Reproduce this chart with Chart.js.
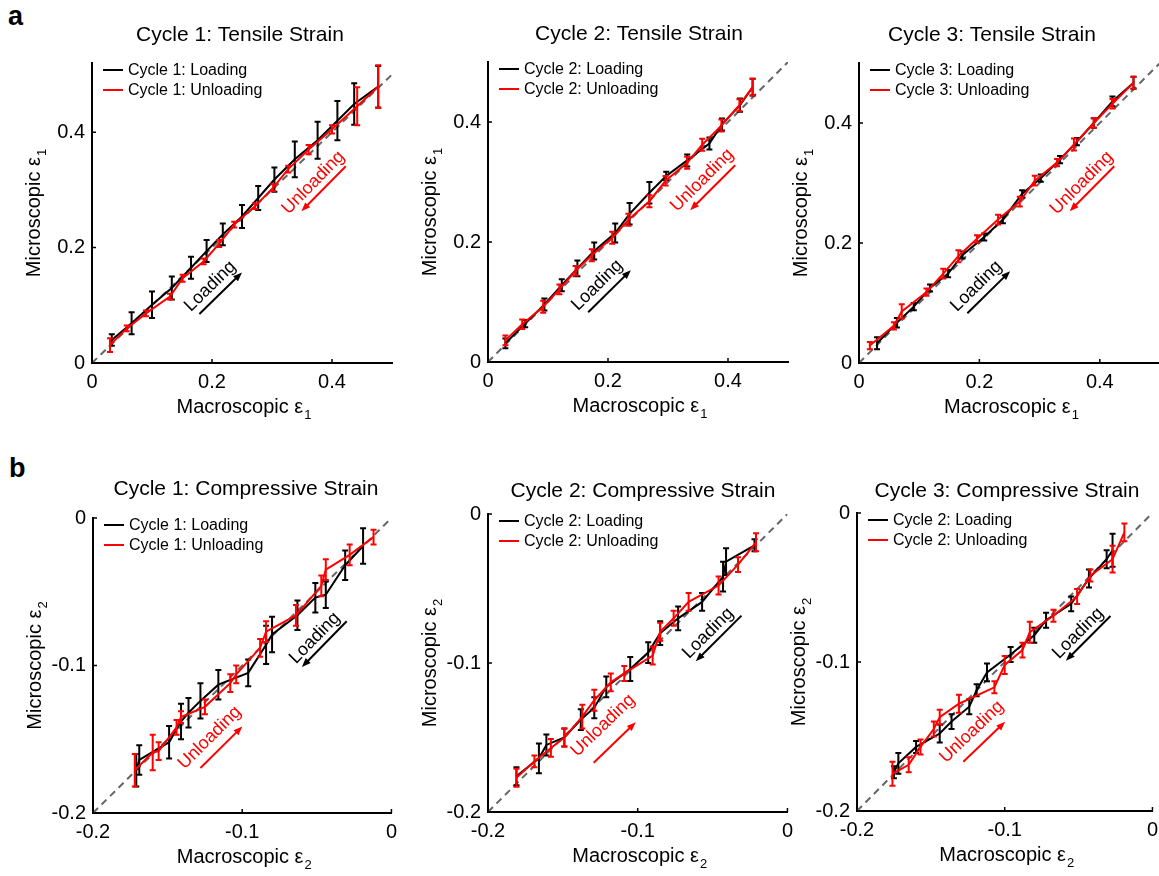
<!DOCTYPE html>
<html>
<head>
<meta charset="utf-8">
<script src="https://cdn.jsdelivr.net/npm/chart.js@4.4.1/dist/chart.umd.min.js"></script>
<style>
  html, body { margin: 0; padding: 0; background: #fff; overflow: hidden; }
  body { width: 1159px; height: 876px; position: relative; font-family: "Liberation Sans", Arial, sans-serif; }
  .tag { position: absolute; font-weight: bold; font-size: 27px; line-height: 27px; color: #000; }
</style>
</head>
<body>
<div class="tag" style="left:8px;top:3px">a</div>
<div class="tag" style="left:9px;top:455px">b</div>
<script>
// ---- data ----
const tensileTicks = [0, 0.2, 0.4];
const compressiveTicks = [-0.2, -0.1, 0];

// a: tensile strain, cycles 1-3
const a1LoadX = [0.033, 0.066, 0.100, 0.133, 0.165, 0.191, 0.218, 0.250, 0.277, 0.304, 0.338, 0.376, 0.409, 0.437, 0.477];
const a1LoadY = [0.040, 0.069, 0.101, 0.130, 0.165, 0.194, 0.223, 0.254, 0.286, 0.318, 0.353, 0.386, 0.420, 0.449, 0.479];
const a1LoadErr = [0.010, 0.019, 0.023, 0.020, 0.019, 0.019, 0.019, 0.020, 0.021, 0.021, 0.031, 0.032, 0.034, 0.036, 0.036];
const a1UnloadX = [0.477, 0.442, 0.400, 0.361, 0.327, 0.302, 0.272, 0.237, 0.212, 0.186, 0.151, 0.130, 0.090, 0.058, 0.030];
const a1UnloadY = [0.479, 0.445, 0.405, 0.370, 0.336, 0.304, 0.272, 0.240, 0.207, 0.176, 0.147, 0.115, 0.086, 0.060, 0.031];
const a1UnloadErr = [0.037, 0.033, 0.007, 0.008, 0.006, 0.006, 0.005, 0.005, 0.006, 0.005, 0.006, 0.005, 0.005, 0.005, 0.012];

const a2LoadX = [0.029, 0.062, 0.094, 0.123, 0.149, 0.177, 0.212, 0.236, 0.269, 0.297, 0.332, 0.369, 0.390, 0.420, 0.441];
const a2LoadY = [0.031, 0.064, 0.096, 0.128, 0.156, 0.185, 0.215, 0.247, 0.282, 0.310, 0.336, 0.364, 0.396, 0.428, 0.458];
const a2LoadErr = [0.008, 0.006, 0.010, 0.010, 0.013, 0.014, 0.016, 0.018, 0.018, 0.007, 0.010, 0.010, 0.010, 0.011, 0.014];
const a2UnloadX = [0.441, 0.419, 0.389, 0.357, 0.332, 0.296, 0.269, 0.234, 0.207, 0.173, 0.146, 0.119, 0.092, 0.057, 0.029];
const a2UnloadY = [0.458, 0.428, 0.394, 0.362, 0.332, 0.302, 0.268, 0.237, 0.207, 0.178, 0.152, 0.121, 0.092, 0.063, 0.036];
const a2UnloadErr = [0.014, 0.010, 0.010, 0.010, 0.010, 0.008, 0.010, 0.010, 0.010, 0.010, 0.008, 0.008, 0.010, 0.008, 0.008];

const a3LoadX = [0.030, 0.063, 0.091, 0.118, 0.148, 0.172, 0.208, 0.239, 0.271, 0.302, 0.334, 0.362, 0.390, 0.421, 0.456];
const a3LoadY = [0.033, 0.067, 0.094, 0.125, 0.149, 0.180, 0.210, 0.239, 0.282, 0.308, 0.339, 0.369, 0.400, 0.436, 0.467];
const a3LoadErr = [0.010, 0.008, 0.006, 0.006, 0.006, 0.006, 0.006, 0.006, 0.006, 0.006, 0.006, 0.006, 0.008, 0.008, 0.010];
const a3UnloadX = [0.456, 0.421, 0.390, 0.357, 0.329, 0.292, 0.267, 0.231, 0.196, 0.165, 0.140, 0.112, 0.071, 0.058, 0.018];
const a3UnloadY = [0.467, 0.432, 0.400, 0.364, 0.334, 0.304, 0.269, 0.239, 0.207, 0.178, 0.149, 0.118, 0.086, 0.062, 0.029];
const a3UnloadErr = [0.010, 0.008, 0.008, 0.010, 0.006, 0.008, 0.008, 0.008, 0.006, 0.010, 0.008, 0.006, 0.012, 0.006, 0.006];

// b: compressive strain, cycles 1-3
const b1LoadX = [-0.019, -0.031, -0.044, -0.051, -0.063, -0.080, -0.084, -0.096, -0.116, -0.128, -0.136, -0.141, -0.149, -0.169, -0.171];
const b1LoadY = [-0.019, -0.032, -0.052, -0.054, -0.066, -0.079, -0.086, -0.105, -0.113, -0.124, -0.132, -0.138, -0.152, -0.164, -0.171];
const b1LoadErr = [0.012, 0.010, 0.009, 0.010, 0.010, 0.012, 0.013, 0.009, 0.010, 0.012, 0.010, 0.012, 0.011, 0.010, 0.011];
const b1UnloadX = [-0.172, -0.160, -0.156, -0.144, -0.141, -0.125, -0.108, -0.104, -0.088, -0.084, -0.064, -0.047, -0.044, -0.028, -0.012];
const b1UnloadY = [-0.171, -0.159, -0.158, -0.142, -0.135, -0.128, -0.112, -0.106, -0.088, -0.077, -0.066, -0.046, -0.035, -0.025, -0.013];
const b1UnloadErr = [0.011, 0.012, 0.006, 0.005, 0.004, 0.005, 0.006, 0.006, 0.006, 0.007, 0.007, 0.007, 0.007, 0.007, 0.005];

const b2LoadX = [-0.022, -0.041, -0.043, -0.057, -0.073, -0.085, -0.093, -0.105, -0.121, -0.129, -0.138, -0.149, -0.161, -0.166, -0.181];
const b2LoadY = [-0.021, -0.032, -0.042, -0.059, -0.070, -0.080, -0.093, -0.104, -0.116, -0.130, -0.138, -0.150, -0.155, -0.164, -0.176];
const b2LoadErr = [0.004, 0.009, 0.010, 0.006, 0.008, 0.008, 0.007, 0.008, 0.007, 0.007, 0.007, 0.006, 0.007, 0.010, 0.006];
const b2UnloadX = [-0.181, -0.169, -0.158, -0.149, -0.137, -0.129, -0.118, -0.109, -0.090, -0.085, -0.076, -0.066, -0.046, -0.033, -0.021];
const b2UnloadY = [-0.177, -0.166, -0.157, -0.150, -0.136, -0.125, -0.113, -0.107, -0.095, -0.079, -0.070, -0.059, -0.048, -0.034, -0.019];
const b2UnloadErr = [0.006, 0.004, 0.006, 0.006, 0.008, 0.007, 0.006, 0.005, 0.006, 0.006, 0.005, 0.006, 0.006, 0.005, 0.006];

const b3LoadX = [-0.027, -0.031, -0.043, -0.055, -0.072, -0.080, -0.096, -0.112, -0.119, -0.124, -0.136, -0.144, -0.160, -0.172, -0.175];
const b3LoadY = [-0.025, -0.031, -0.044, -0.061, -0.072, -0.082, -0.095, -0.107, -0.119, -0.130, -0.140, -0.148, -0.157, -0.168, -0.174];
const b3LoadErr = [0.011, 0.006, 0.006, 0.005, 0.005, 0.005, 0.005, 0.006, 0.004, 0.005, 0.005, 0.006, 0.004, 0.007, 0.004];
const b3UnloadX = [-0.176, -0.165, -0.157, -0.148, -0.144, -0.131, -0.107, -0.100, -0.088, -0.083, -0.067, -0.051, -0.042, -0.027, -0.019];
const b3UnloadY = [-0.175, -0.169, -0.157, -0.145, -0.137, -0.128, -0.117, -0.102, -0.092, -0.080, -0.069, -0.056, -0.042, -0.031, -0.013];
const b3UnloadErr = [0.008, 0.005, 0.005, 0.005, 0.005, 0.006, 0.004, 0.006, 0.005, 0.007, 0.004, 0.005, 0.004, 0.009, 0.006];

// ---- styling ----
const FONT = '"Liberation Sans", Arial, sans-serif';
const BLACK = '#000000';
const RED = '#ff0000';
const PAD_L = 92, PAD_T = 63, PAD_R = 12, PAD_B = 65;

// panel settings: box = plot area on the page, arrows in data units
const panels = [
  {
    title: 'Cycle 1: Tensile Strain', names: ['Cycle 1: Loading', 'Cycle 1: Unloading'], sub: '1',
    load: [a1LoadX, a1LoadY, a1LoadErr], unload: [a1UnloadX, a1UnloadY, a1UnloadErr],
    xRange: [0, 0.5], yRange: [0, 0.52], diag: [0, 0.5], ticks: tensileTicks,
    box: { left: 92, top: 63, width: 300, height: 300 }, titlePos: [240, 35],
    arrows: [
      { text: 'Loading', color: BLACK, from: [0.179, 0.085], to: [0.250, 0.157], label: [0.197, 0.133] },
      { text: 'Unloading', color: RED, from: [0.423, 0.341], to: [0.349, 0.263], label: [0.369, 0.3125] }
    ]
  },
  {
    title: 'Cycle 2: Tensile Strain', names: ['Cycle 2: Loading', 'Cycle 2: Unloading'], sub: '1',
    load: [a2LoadX, a2LoadY, a2LoadErr], unload: [a2UnloadX, a2UnloadY, a2UnloadErr],
    xRange: [0, 0.5], yRange: [0, 0.5], diag: [0, 0.5], ticks: tensileTicks,
    box: { left: 488, top: 62, width: 300, height: 300 }, titlePos: [639, 34],
    arrows: [
      { text: 'Loading', color: BLACK, from: [0.167, 0.083], to: [0.238, 0.153], label: [0.182, 0.128] },
      { text: 'Unloading', color: RED, from: [0.412, 0.328], to: [0.337, 0.253], label: [0.357, 0.303] }
    ]
  },
  {
    title: 'Cycle 3: Tensile Strain', names: ['Cycle 3: Loading', 'Cycle 3: Unloading'], sub: '1',
    load: [a3LoadX, a3LoadY, a3LoadErr], unload: [a3UnloadX, a3UnloadY, a3UnloadErr],
    xRange: [0, 0.5], yRange: [0, 0.5], diag: [0, 0.5], ticks: tensileTicks,
    box: { left: 859, top: 63, width: 301, height: 300 }, titlePos: [992, 35],
    arrows: [
      { text: 'Loading', color: BLACK, from: [0.180, 0.083], to: [0.251, 0.153], label: [0.195, 0.128] },
      { text: 'Unloading', color: RED, from: [0.424, 0.328], to: [0.350, 0.253], label: [0.370, 0.300] }
    ]
  },
  {
    title: 'Cycle 1: Compressive Strain', names: ['Cycle 1: Loading', 'Cycle 1: Unloading'], sub: '2',
    load: [b1LoadX, b1LoadY, b1LoadErr], unload: [b1UnloadX, b1UnloadY, b1UnloadErr],
    xRange: [-0.2, 0], yRange: [-0.2, 0], diag: [-0.2, 0], ticks: compressiveTicks,
    box: { left: 93, top: 518, width: 299, height: 295 }, titlePos: [246, 489],
    arrows: [
      { text: 'Loading', color: BLACK, from: [-0.030, -0.070], to: [-0.060, -0.101], label: [-0.0514, -0.0814] },
      { text: 'Unloading', color: RED, from: [-0.128, -0.1695], to: [-0.0999, -0.1413], label: [-0.1218, -0.149] }
    ]
  },
  {
    title: 'Cycle 2: Compressive Strain', names: ['Cycle 2: Loading', 'Cycle 2: Unloading'], sub: '2',
    load: [b2LoadX, b2LoadY, b2LoadErr], unload: [b2UnloadX, b2UnloadY, b2UnloadErr],
    xRange: [-0.2, 0], yRange: [-0.2, 0], diag: [-0.2, 0], ticks: compressiveTicks,
    box: { left: 488, top: 514, width: 300, height: 298 }, titlePos: [643, 491],
    arrows: [
      { text: 'Loading', color: BLACK, from: [-0.0307, -0.0682], to: [-0.0612, -0.0988], label: [-0.053, -0.080] },
      { text: 'Unloading', color: RED, from: [-0.1294, -0.1669], to: [-0.1013, -0.1397], label: [-0.1232, -0.1419] }
    ]
  },
  {
    title: 'Cycle 3: Compressive Strain', names: ['Cycle 2: Loading', 'Cycle 2: Unloading'], sub: '2',
    load: [b3LoadX, b3LoadY, b3LoadErr], unload: [b3UnloadX, b3UnloadY, b3UnloadErr],
    xRange: [-0.2, 0], yRange: [-0.2, 0], diag: [-0.2, 0], ticks: compressiveTicks,
    box: { left: 857, top: 513, width: 296, height: 298 }, titlePos: [1007, 491],
    arrows: [
      { text: 'Loading', color: BLACK, from: [-0.0284, -0.0691], to: [-0.0586, -0.0991], label: [-0.0503, -0.0807] },
      { text: 'Unloading', color: RED, from: [-0.128, -0.167], to: [-0.0997, -0.1401], label: [-0.1223, -0.1469] }
    ]
  }
];

function toPoints(xs, ys) {
  return xs.map((x, i) => ({ x: x, y: ys[i] }));
}

function fmtTick(v) {
  return Math.abs(v) < 1e-9 ? '0' : String(v);
}

// error bars drawn right after their own series, so red stays on top
const errorBars = {
  id: 'errorBars',
  afterDatasetDraw(chart, args) {
    const ds = chart.data.datasets[args.index];
    if (!ds.errors) return;
    const ctx = chart.ctx;
    const ys = chart.scales.y;
    ctx.save();
    ctx.strokeStyle = ds.borderColor;
    ctx.lineWidth = 2;
    args.meta.data.forEach((pt, i) => {
      const v = ds.data[i].y, e = ds.errors[i];
      const top = ys.getPixelForValue(v + e);
      const bot = ys.getPixelForValue(v - e);
      ctx.beginPath();
      ctx.moveTo(pt.x, top); ctx.lineTo(pt.x, bot);
      ctx.moveTo(pt.x - 3, top); ctx.lineTo(pt.x + 3, top);
      ctx.moveTo(pt.x - 3, bot); ctx.lineTo(pt.x + 3, bot);
      ctx.stroke();
    });
    ctx.restore();
  }
};

function textWithSub(ctx, main, sub, cx, cy) {
  ctx.font = '20px ' + FONT;
  const w1 = ctx.measureText(main).width;
  ctx.font = '13px ' + FONT;
  const w2 = ctx.measureText(sub).width;
  const x0 = cx - (w1 + w2 + 1) / 2;
  ctx.textAlign = 'left';
  ctx.textBaseline = 'middle';
  ctx.font = '20px ' + FONT;
  ctx.fillText(main, x0, cy);
  ctx.font = '13px ' + FONT;
  ctx.fillText(sub, x0 + w1 + 1, cy + 8);
}

// titles, axis labels, inner legend, inward ticks and arrows
function decor(p, offX, offY) {
  return {
    id: 'decor',
    afterDraw(chart) {
      const ctx = chart.ctx;
      const area = chart.chartArea;
      const xs = chart.scales.x, ys = chart.scales.y;
      ctx.save();
      ctx.fillStyle = '#000';

      // inward tick marks
      ctx.strokeStyle = '#000';
      ctx.lineWidth = 1.5;
      ctx.beginPath();
      p.ticks.forEach(v => {
        const px = xs.getPixelForValue(v);
        ctx.moveTo(px, area.bottom); ctx.lineTo(px, area.bottom - 4);
        const py = ys.getPixelForValue(v);
        ctx.moveTo(area.left, py); ctx.lineTo(area.left + 4, py);
      });
      ctx.stroke();

      // title
      ctx.font = '21px ' + FONT;
      ctx.textAlign = 'center';
      ctx.textBaseline = 'middle';
      ctx.fillText(p.title, p.titlePos[0] - offX, p.titlePos[1] - offY);

      // axis titles
      textWithSub(ctx, 'Macroscopic \u03b5', p.sub, (area.left + area.right) / 2 + 2, area.bottom + 44);
      ctx.save();
      ctx.translate(area.left - 58, (area.top + area.bottom) / 2);
      ctx.rotate(-Math.PI / 2);
      textWithSub(ctx, 'Microscopic \u03b5', p.sub, 0, 0);
      ctx.restore();

      // legend inside the axes
      [BLACK, RED].forEach((c, i) => {
        const y = area.top + 7 + i * 20;
        ctx.strokeStyle = c;
        ctx.lineWidth = 2;
        ctx.beginPath();
        ctx.moveTo(area.left + 11, y); ctx.lineTo(area.left + 31, y);
        ctx.stroke();
        ctx.fillStyle = '#000';
        ctx.font = '16px ' + FONT;
        ctx.textAlign = 'left';
        ctx.textBaseline = 'middle';
        ctx.fillText(p.names[i], area.left + 36, y + 1);
      });

      // direction arrows with labels
      p.arrows.forEach(a => {
        const x1 = xs.getPixelForValue(a.from[0]), y1 = ys.getPixelForValue(a.from[1]);
        const x2 = xs.getPixelForValue(a.to[0]), y2 = ys.getPixelForValue(a.to[1]);
        const len = Math.hypot(x2 - x1, y2 - y1);
        const ux = (x2 - x1) / len, uy = (y2 - y1) / len;
        ctx.strokeStyle = a.color;
        ctx.fillStyle = a.color;
        ctx.lineWidth = 2;
        ctx.beginPath();
        ctx.moveTo(x1, y1); ctx.lineTo(x2 - ux * 7, y2 - uy * 7);
        ctx.stroke();
        ctx.beginPath();
        ctx.moveTo(x2, y2);
        ctx.lineTo(x2 - ux * 9 - uy * 3.5, y2 - uy * 9 + ux * 3.5);
        ctx.lineTo(x2 - ux * 9 + uy * 3.5, y2 - uy * 9 - ux * 3.5);
        ctx.closePath();
        ctx.fill();

        let ang = Math.atan2(y2 - y1, x2 - x1);
        if (ang > Math.PI / 2) ang -= Math.PI;
        if (ang < -Math.PI / 2) ang += Math.PI;
        ctx.save();
        ctx.translate(xs.getPixelForValue(a.label[0]), ys.getPixelForValue(a.label[1]));
        ctx.rotate(ang);
        ctx.font = '18px ' + FONT;
        ctx.textAlign = 'center';
        ctx.textBaseline = 'middle';
        ctx.fillText(a.text, 0, 0);
        ctx.restore();
      });
      ctx.restore();
    }
  };
}

function axisOptions(range, ticks, isX) {
  return {
    type: 'linear',
    min: range[0],
    max: range[1],
    afterBuildTicks: s => { s.ticks = ticks.map(v => ({ value: v })); },
    afterFit: s => { if (isX) s.height = PAD_B; else s.width = PAD_L; },
    grid: { drawOnChartArea: false, drawTicks: false },
    border: { display: true, color: '#000', width: 2 },
    ticks: {
      color: '#000',
      font: { family: FONT, size: 20 },
      padding: 7,
      autoSkip: false,
      maxRotation: 0,
      callback: v => fmtTick(v)
    }
  };
}

function makePanel(p) {
  const cl = p.box.left - PAD_L, ct = p.box.top - PAD_T;
  const cw = PAD_L + p.box.width + PAD_R, ch = PAD_T + p.box.height + PAD_B;
  const cv = document.createElement('canvas');
  cv.width = cw; cv.height = ch;
  cv.style.cssText = 'position:absolute;left:' + cl + 'px;top:' + ct + 'px;width:' + cw + 'px;height:' + ch + 'px';
  document.body.appendChild(cv);

  new Chart(cv, {
    type: 'scatter',
    data: {
      datasets: [
        {
          label: p.names[1], data: toPoints(p.unload[0], p.unload[1]), errors: p.unload[2],
          borderColor: RED, backgroundColor: RED, borderWidth: 2, showLine: true, pointRadius: 0
        },
        {
          label: p.names[0], data: toPoints(p.load[0], p.load[1]), errors: p.load[2],
          borderColor: BLACK, backgroundColor: BLACK, borderWidth: 2, showLine: true, pointRadius: 0
        },
        {
          label: 'y = x', data: [{ x: p.diag[0], y: p.diag[0] }, { x: p.diag[1], y: p.diag[1] }],
          borderColor: '#666666', borderDash: [7, 5], borderWidth: 2, showLine: true, pointRadius: 0
        }
      ]
    },
    options: {
      responsive: false,
      animation: false,
      devicePixelRatio: 1,
      layout: { padding: { left: 0, top: PAD_T, right: PAD_R, bottom: 0 }, autoPadding: false },
      plugins: { legend: { display: false }, title: { display: false }, tooltip: { enabled: false } },
      scales: {
        x: axisOptions(p.xRange, p.ticks, true),
        y: axisOptions(p.yRange, p.ticks, false)
      }
    },
    plugins: [errorBars, decor(p, cl, ct)]
  });
}

panels.forEach(makePanel);
</script>
</body>
</html>
